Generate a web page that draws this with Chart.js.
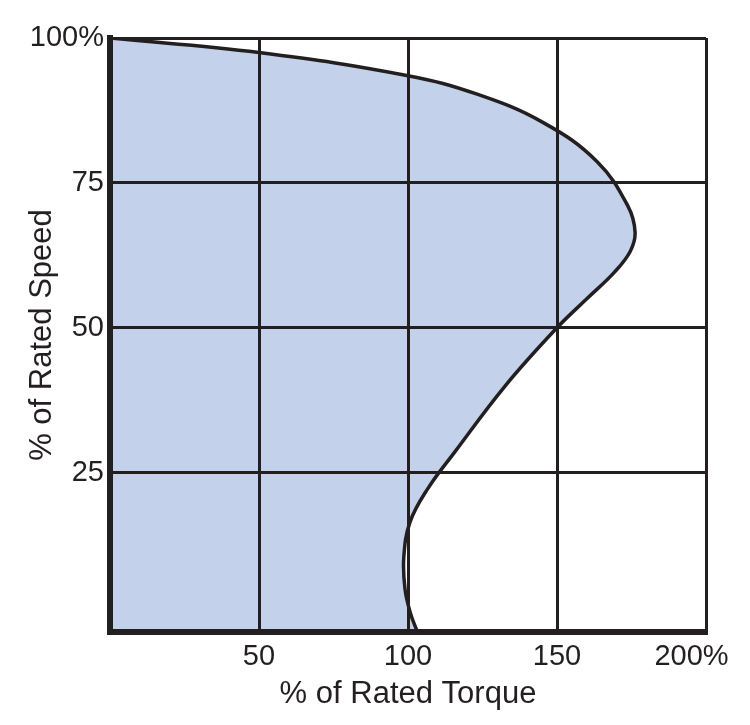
<!DOCTYPE html>
<html>
<head>
<meta charset="utf-8">
<script src="https://cdn.jsdelivr.net/npm/chart.js@4.4.1/dist/chart.umd.min.js"></script>
<style>
  html, body { margin: 0; background: #fff; }
</style>
</head>
<body>
<canvas id="myChart" width="750" height="725"></canvas>
<script>
// curve points (% torque, % speed)
const torque = [0, 50, 100, 123.2, 145.4, 163.4, 173.8, 176.2, 174.6, 169.3, 160.0, 150, 132.5, 115.6, 106.6, 100.7, 98.6, 99.0, 100.9, 103.0];
const speed = [100, 97.5, 93.5, 90.3, 85.4, 78.7, 71.0, 66.5, 63.2, 59.6, 55.0, 50, 39.9, 28.5, 22.2, 16.5, 10.5, 4.9, 0.6, -2.3];

const torqueTicks = [0, 50, 100, 150, 200];
const speedTicks = [25, 50, 75, 100];

const ink = '#231f20';
const fontFamily = "'Liberation Sans', Arial, sans-serif";

const points = torque.map((t, i) => ({ x: t, y: speed[i] }));

const ctx = document.getElementById('myChart');

new Chart(ctx, {
    type: 'line',
    data: {
        datasets: [{
            data: points,
            borderColor: ink,
            borderWidth: 3.5,
            backgroundColor: '#c3d1ea',
            fill: 'origin',
            pointRadius: 0,
            tension: 0.4
        }]
    },
    options: {
        indexAxis: 'y',
        responsive: false,
        animation: false,
        layout: {
            padding: { top: 38, right: 44, left: 0, bottom: 0 }
        },
        plugins: {
            legend: { display: false },
            tooltip: { enabled: false }
        },
        scales: {
            x: {
                type: 'linear',
                min: 0,
                max: 200,
                afterBuildTicks: s => { s.ticks = torqueTicks.map(v => ({ value: v })); },
                afterFit: s => {
                    s.height = 93;
                    // don't let the last label push the plot area in
                    s.paddingLeft = 0;
                    s.paddingRight = 0;
                },
                // grid drawn above the filled area
                grid: { color: ink, lineWidth: 3, drawTicks: false, z: 1 },
                border: { color: ink, width: 6, z: 1 },
                ticks: {
                    color: ink,
                    font: { family: fontFamily, size: 29 },
                    padding: 8,
                    maxRotation: 0,
                    callback: v => v === 0 ? '' : (v === 200 ? v + '%\u2003' : v)
                },
                title: {
                    display: true,
                    text: '% of Rated Torque',
                    color: ink,
                    font: { family: fontFamily, size: 31 },
                    padding: { top: 0, bottom: 12 }
                }
            },
            y: {
                type: 'linear',
                min: -2.5,
                max: 100,
                afterBuildTicks: s => { s.ticks = speedTicks.map(v => ({ value: v })); },
                afterFit: s => {
                    s.width = 110;
                    s.paddingTop = 0;
                    s.paddingBottom = 0;
                },
                grid: { color: ink, lineWidth: 3, drawTicks: false, z: 1 },
                border: { color: ink, width: 6, z: 1 },
                ticks: {
                    color: ink,
                    font: { family: fontFamily, size: 29 },
                    padding: 6,
                    callback: v => v === 100 ? v + '%' : v
                },
                title: {
                    display: true,
                    text: '% of Rated Speed',
                    color: ink,
                    font: { family: fontFamily, size: 31 },
                    padding: { top: 24, bottom: 0 }
                }
            }
        }
    }
});
</script>
</body>
</html>
